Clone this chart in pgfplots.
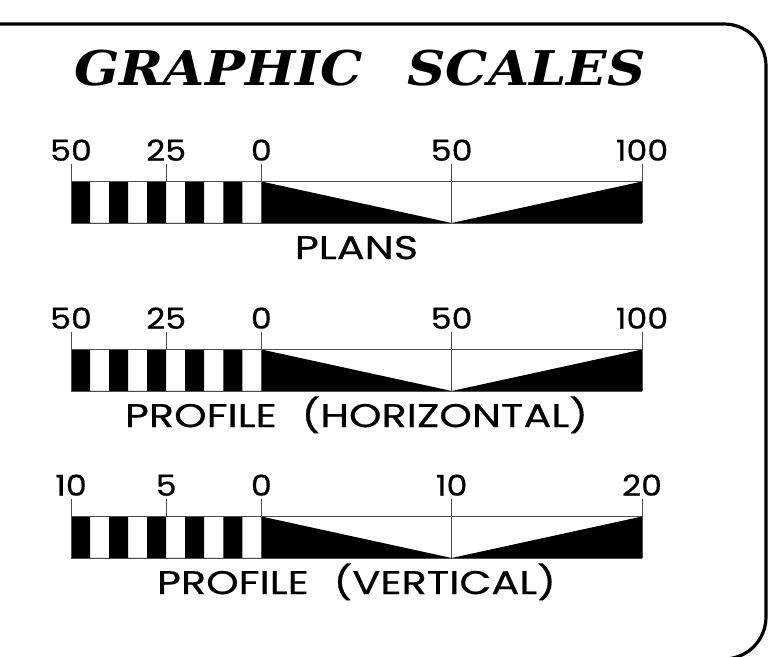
\documentclass[border=0pt]{standalone}
\usepackage{pgfplots}
\pgfplotsset{compat=1.18}
\usepackage{fontspec}
\newfontfamily\digitfont{Poppins}[FakeBold=0.6, FakeStretch=1.15]
\newfontfamily\labelfont{Poppins}[FakeBold=0.5, FakeStretch=1.26]
\newfontfamily\titlefont{DejaVu Serif}[FakeStretch=1.11]

\pgfplotsset{
  scalebar/.style={
    scale only axis, width=571bp, height=41.5bp, hide axis,
    ymin=0, ymax=1, clip=false, anchor=south west,
  },
  rule/.style={line width=0.9bp, black!70},
}
\tikzset{
  num/.style={anchor=base, font=\digitfont\fontsize{29}{30}\selectfont},
  name/.style={anchor=base, font=\labelfont\fontsize{33}{36}\selectfont},
}

\begin{document}
\begin{tikzpicture}[x=1bp, y=1bp]
  \useasboundingbox (0,0) rectangle (784,657);
  \clip (0,0) rectangle (784,657);

  % frame, only its top and right side fall on the page
  \draw[line width=3.2bp, rounded corners=42bp] (-10,633) -- (766,633) -- (766,-2) -- (-10,-2);

  \node[anchor=base, font=\titlefont\fontsize{48}{56}\selectfont\bfseries\itshape] at (360,571)
    {GRAPHIC\hspace{0.95em}SCALES};

  % PLANS
  \begin{axis}[scalebar, at={(71bp,434bp)}, xmin=-50, xmax=100]
    \addplot[fill=black, draw=none, const plot] coordinates
      {(-50,1) (-45,0) (-40,1) (-35,0) (-30,1) (-25,0) (-20,1) (-15,0) (-10,1) (-5,0) (0,0)} \closedcycle;
    \addplot[fill=black, draw=none] coordinates {(0,1) (50,0)} \closedcycle;
    \addplot[fill=black, draw=none] coordinates {(50,0) (100,1)} \closedcycle;
    \addplot[rule] coordinates {(-50,1) (100,1)};
    \addplot[rule] coordinates {(-50,0) (100,0)};
    \addplot[rule] coordinates {(-50,0) (-50,1.41)};
    \addplot[rule] coordinates {(-25,1) (-25,1.41)};
    \addplot[rule] coordinates {(0,0) (0,1.41)};
    \addplot[rule] coordinates {(50,0) (50,1.41)};
    \addplot[rule] coordinates {(100,0) (100,1.41)};
    \node[num] at (axis cs:-50,1.5) {50};
    \node[num] at (axis cs:-25,1.5) {25};
    \node[num] at (axis cs:0,1.5) {0};
    \node[num] at (axis cs:50,1.5) {50};
    \node[num] at (axis cs:100,1.5) {100};
    \node[name] at (axis cs:25,-0.87) {PLANS};
  \end{axis}

  % PROFILE (HORIZONTAL)
  \begin{axis}[scalebar, at={(71bp,266bp)}, xmin=-50, xmax=100]
    \addplot[fill=black, draw=none, const plot] coordinates
      {(-50,1) (-45,0) (-40,1) (-35,0) (-30,1) (-25,0) (-20,1) (-15,0) (-10,1) (-5,0) (0,0)} \closedcycle;
    \addplot[fill=black, draw=none] coordinates {(0,1) (50,0)} \closedcycle;
    \addplot[fill=black, draw=none] coordinates {(50,0) (100,1)} \closedcycle;
    \addplot[rule] coordinates {(-50,1) (100,1)};
    \addplot[rule] coordinates {(-50,0) (100,0)};
    \addplot[rule] coordinates {(-50,0) (-50,1.41)};
    \addplot[rule] coordinates {(-25,1) (-25,1.41)};
    \addplot[rule] coordinates {(0,0) (0,1.41)};
    \addplot[rule] coordinates {(50,0) (50,1.41)};
    \addplot[rule] coordinates {(100,0) (100,1.41)};
    \node[num] at (axis cs:-50,1.5) {50};
    \node[num] at (axis cs:-25,1.5) {25};
    \node[num] at (axis cs:0,1.5) {0};
    \node[num] at (axis cs:50,1.5) {50};
    \node[num] at (axis cs:100,1.5) {100};
    \node[name] at (axis cs:25,-0.87) {PROFILE\hspace{0.75em}(HORIZONTAL)};
  \end{axis}

  % PROFILE (VERTICAL)
  \begin{axis}[scalebar, at={(71bp,99bp)}, xmin=-10, xmax=20]
    \addplot[fill=black, draw=none, const plot] coordinates
      {(-10,1) (-9,0) (-8,1) (-7,0) (-6,1) (-5,0) (-4,1) (-3,0) (-2,1) (-1,0) (0,0)} \closedcycle;
    \addplot[fill=black, draw=none] coordinates {(0,1) (10,0)} \closedcycle;
    \addplot[fill=black, draw=none] coordinates {(10,0) (20,1)} \closedcycle;
    \addplot[rule] coordinates {(-10,1) (20,1)};
    \addplot[rule] coordinates {(-10,0) (20,0)};
    \addplot[rule] coordinates {(-10,0) (-10,1.41)};
    \addplot[rule] coordinates {(-5,1) (-5,1.41)};
    \addplot[rule] coordinates {(0,0) (0,1.41)};
    \addplot[rule] coordinates {(10,0) (10,1.41)};
    \addplot[rule] coordinates {(20,0) (20,1.41)};
    \node[num] at (axis cs:-10,1.5) {10};
    \node[num] at (axis cs:-5,1.5) {5};
    \node[num] at (axis cs:0,1.5) {0};
    \node[num] at (axis cs:10,1.5) {10};
    \node[num] at (axis cs:20,1.5) {20};
    \node[name] at (axis cs:5,-0.87) {PROFILE\hspace{0.75em}(VERTICAL)};
  \end{axis}
\end{tikzpicture}
\end{document}
